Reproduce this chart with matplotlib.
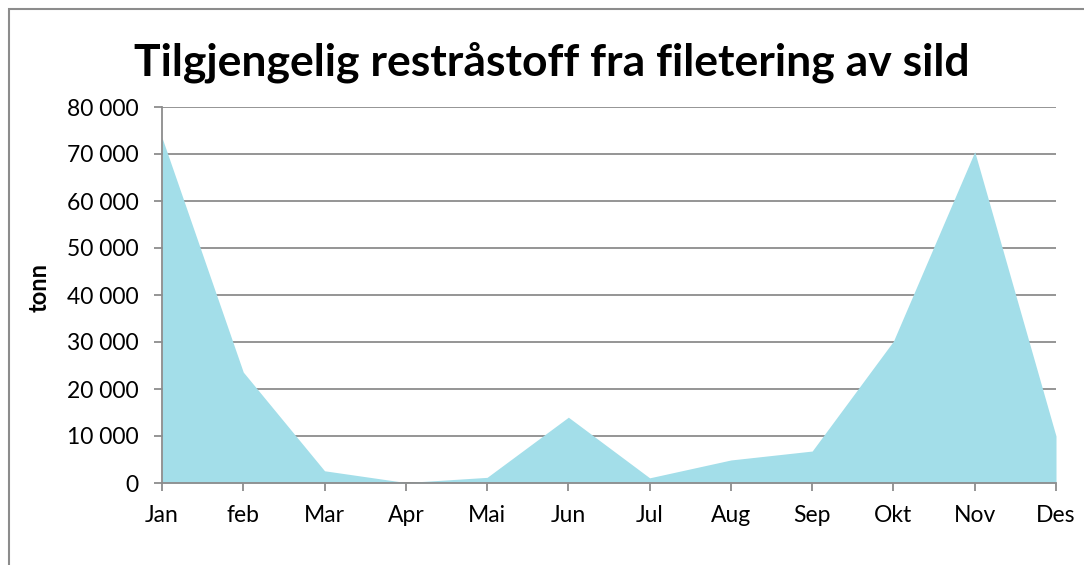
import matplotlib.pyplot as plt
from matplotlib.patches import Rectangle
from matplotlib.ticker import FuncFormatter

months = ['Jan', 'feb', 'Mar', 'Apr', 'Mai', 'Jun', 'Jul', 'Aug', 'Sep', 'Okt', 'Nov', 'Des']
tonn = [73500, 23600, 2600, 100, 1200, 14000, 1100, 4900, 6800, 30200, 70500, 10000]

plt.rcParams['font.family'] = ['Lato', 'DejaVu Sans']

fig = plt.figure(figsize=(10.84, 5.65), dpi=100)
ax = fig.add_axes([162 / 1084, 1 - 483 / 565, (1056 - 162) / 1084, (483 - 107) / 565])

x = list(range(len(months)))
ax.fill_between(x, tonn, 0, color='#a3dee9', linewidth=0, zorder=2)

ax.set_xlim(0, len(months) - 1)
ax.set_ylim(0, 80000)
ax.set_yticks(range(0, 80001, 10000))
ax.yaxis.set_major_formatter(FuncFormatter(lambda v, p: f'{int(v):,}'.replace(',', ' ')))
ax.set_xticks(x)
ax.set_xticklabels(months)

grid_c = '#8c8c8c'
ax.grid(axis='y', color=grid_c, linewidth=1.3, zorder=1)
ax.set_axisbelow(True)
for s in ['top', 'right']:
    ax.spines[s].set_visible(False)
for s in ['left', 'bottom']:
    ax.spines[s].set_color(grid_c)
    ax.spines[s].set_linewidth(1.3)
    ax.spines[s].set_zorder(3)
ax.tick_params(axis='both', colors=grid_c, labelcolor='black', labelsize=16.5, length=6, width=1.3)
ax.tick_params(axis='x', pad=10)
ax.tick_params(axis='y', pad=11)

# y-akse tittel
fig.text(39 / 1084, 1 - 287 / 565, 'tonn', rotation=90, ha='center', va='center',
         fontsize=17, fontweight='bold')
fig.text(552 / 1084, 1 - 62 / 565, 'Tilgjengelig restråstoff fra filetering av sild', ha='center', va='center',
         fontsize=32, fontweight='bold')

fig.patches.append(Rectangle((9 / 1084, -0.05), 1.1, 1 - 9 / 565 + 0.05, transform=fig.transFigure,
                             fill=False, edgecolor='#8c8c8c', linewidth=1.5))

fig.savefig('out.png', dpi=100)
